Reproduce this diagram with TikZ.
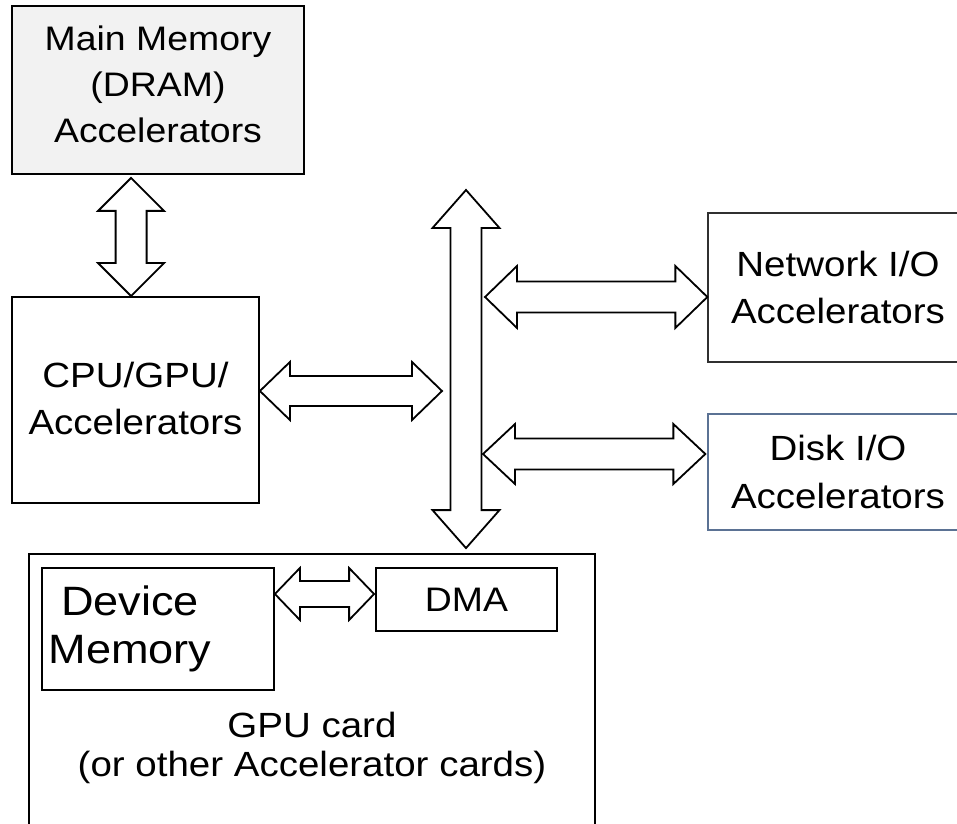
\documentclass[tikz,border=0pt]{standalone}
\usepackage{fontspec}
\setmainfont{Liberation Sans}[FakeStretch=1.1]
\usetikzlibrary{calc}

% double-headed block arrows drawn as outlined polygons
% #1 first tip, #2 second tip, #3 head length, #4 head half-width, #5 shaft half-width
\newcommand{\hblock}[5]{%
  \draw[blockarrow] let \p1=(#1), \p2=(#2) in
    (\x1,\y1) -- (\x1+#3pt,\y1+#4pt) -- (\x1+#3pt,\y1+#5pt) -- (\x2-#3pt,\y1+#5pt)
    -- (\x2-#3pt,\y1+#4pt) -- (\x2,\y1) -- (\x2-#3pt,\y1-#4pt) -- (\x2-#3pt,\y1-#5pt)
    -- (\x1+#3pt,\y1-#5pt) -- (\x1+#3pt,\y1-#4pt) -- cycle;}
\newcommand{\vblock}[5]{%
  \draw[blockarrow] let \p1=(#1), \p2=(#2) in
    (\x1,\y1) -- (\x1+#4pt,\y1-#3pt) -- (\x1+#5pt,\y1-#3pt) -- (\x1+#5pt,\y2+#3pt)
    -- (\x1+#4pt,\y2+#3pt) -- (\x1,\y2) -- (\x1-#4pt,\y2+#3pt) -- (\x1-#5pt,\y2+#3pt)
    -- (\x1-#5pt,\y1-#3pt) -- (\x1-#4pt,\y1-#3pt) -- cycle;}

\definecolor{memfill}{HTML}{F2F2F2}
\definecolor{diskline}{HTML}{5B7294}
\definecolor{netline}{HTML}{303030}

\tikzset{
  unit/.style={draw=black, line width=1.8pt, fill=white, inner sep=0pt},
  lbl/.style={align=center, inner sep=0pt, font=\fontsize{35}{47}\selectfont},
  blockarrow/.style={draw=black, line width=1.8pt, fill=white, line join=miter},
}

\begin{document}
\begin{tikzpicture}[x=1pt, y=1pt]
  \useasboundingbox (0,0) rectangle (957,823);
  \fill[white] (0,0) rectangle (957,823);

  % boxes
  \node[unit, fill=memfill, minimum width=292pt, minimum height=168pt] (mem) at (158,733) {};
  \node[unit, minimum width=247pt, minimum height=206pt] (cpu) at (135.5,423) {};
  \node[unit, draw=netline, line width=1.3pt, minimum width=260pt, minimum height=149pt] (net) at (838,535.5) {};
  \node[unit, draw=diskline, line width=1.3pt, minimum width=260pt, minimum height=116pt] (disk) at (838,351) {};
  \node[unit, minimum width=566pt, minimum height=309pt] (card) at (312,114.5) {};
  \node[unit, minimum width=232pt, minimum height=122pt] (devmem) at (158,194) {};
  \node[unit, minimum width=181pt, minimum height=63pt] (dma) at (466.5,223.5) {};

  % labels
  \node[lbl, font=\fontsize{34}{46}\selectfont] (memtext) at ($(mem.center)+(0,6)$) {Main Memory\\(DRAM)\\Accelerators};
  \node[lbl] (cputext) at ($(cpu.center)+(0,1.5)$) {CPU/GPU/\\Accelerators};
  \node[lbl] (nettext) at (net.center) {Network I/O\\Accelerators};
  \node[lbl, font=\fontsize{35}{48}\selectfont] (disktext) at (disk.center) {Disk I/O\\Accelerators};
  \node[lbl, font=\fontsize{41}{48}\selectfont] (devtext) at ($(devmem.center)+(-28,0)$) {Device\\Memory};
  \node[lbl, font=\fontsize{34}{46}\selectfont] (dmatext) at (dma.center) {DMA};
  \node[lbl, font=\fontsize{35}{39}\selectfont] (cardtext) at (312,75.3) {GPU card\\(or other Accelerator cards)};

  % system bus
  \coordinate (bustop) at (466,633);
  \coordinate (busbot) at ($(card.north -| dma.north)+(0,5)$);
  \vblock{bustop}{busbot}{38}{33.5}{15.5}

  % main memory <-> processor
  \coordinate (memport) at ($(cpu.north west)+(120,0)$);
  \coordinate (memtip) at ($(memport |- mem.south)+(0,-3)$);
  \vblock{memtip}{memport}{33}{33}{15.5}

  % processor <-> bus
  \coordinate (cpuport) at ($(cpu.east)+(0,9)$);
  \coordinate (cpubus) at ([xshift=-24pt]bustop |- cpuport);
  \hblock{cpuport}{cpubus}{30}{29}{15}

  % bus <-> network I/O
  \coordinate (netport) at ($(net.west)+(0,-9.5)$);
  \coordinate (netbus) at ([xshift=19pt]bustop |- netport);
  \hblock{netbus}{netport}{32}{31}{15.5}

  % bus <-> disk I/O
  \coordinate (diskport) at ($(disk.west)+(-2,18)$);
  \coordinate (diskbus) at ([xshift=17pt]bustop |- diskport);
  \hblock{diskbus}{diskport}{32}{30}{15.5}

  % device memory <-> DMA
  \coordinate (dmaport) at ($(dma.west)+(-1,5.5)$);
  \coordinate (devport) at (devmem.east |- dmaport);
  \hblock{devport}{dmaport}{25}{26}{13}
\end{tikzpicture}
\end{document}
